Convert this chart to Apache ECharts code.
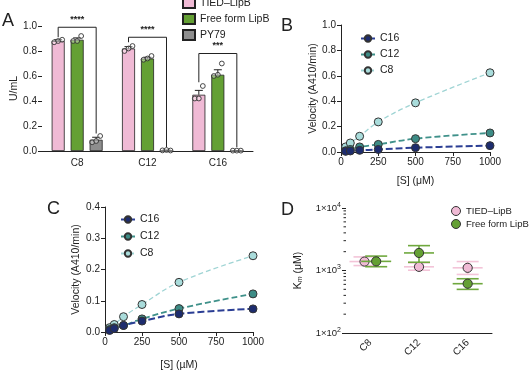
<!DOCTYPE html>
<html>
<head>
<meta charset="utf-8">
<script src="https://cdn.jsdelivr.net/npm/echarts@6/dist/echarts.min.js"></script>
<style>
  html, body { margin: 0; padding: 0; background: #fff; }
  #chart { width: 531px; height: 372px; }
</style>
</head>
<body>
<div id="chart"></div>
<script>
  // ---- panel A: activity (U/mL) ----
  const groupsA = ['C8', 'C12', 'C16']
  const tiedA = [0.88, 0.82, 0.45]
  const freeA = [0.89, 0.74, 0.61]
  const py79A = [0.09, 0.005, 0.003]
  const tiedSemA = [0.01, 0.015, 0.035]
  const freeSemA = [0.015, 0.01, 0.04]
  const py79SemA = [0.02, 0.003, 0.001]
  const tiedDotsA = [[0.87, 0.88, 0.89], [0.80, 0.82, 0.84], [0.42, 0.42, 0.52]]
  const freeDotsA = [[0.88, 0.88, 0.92], [0.73, 0.74, 0.76], [0.60, 0.61, 0.70]]
  const py79DotsA = [[0.07, 0.08, 0.12], [0.005, 0.008, 0.004], [0.003, 0.003, 0.003]]
  // [fromGroup, fromBar, toGroup, toBar, top, leftEnd, rightEnd]
  const bracketsA = [
    [0, 0, 0, 2, 0.99, 0.91, 0.14],
    [1, 0, 1, 2, 0.91, 0.87, 0.03],
    [2, 0, 2, 2, 0.78, 0.55, 0.03]
  ]
  const starsA = ['****', '****', '***']

  // ---- panels B and C: velocity vs [S] ----
  const substrate = [31.25, 62.5, 125, 250, 500, 1000]
  const c16B = [0.005, 0.008, 0.013, 0.02, 0.034, 0.05]
  const c12B = [0.01, 0.02, 0.04, 0.06, 0.105, 0.15]
  const c8B = [0.04, 0.071, 0.124, 0.237, 0.387, 0.624]
  const c16C = [0.005, 0.011, 0.021, 0.035, 0.058, 0.074]
  const c12C = [0.008, 0.014, 0.021, 0.042, 0.075, 0.122]
  const c8C = [0.014, 0.024, 0.049, 0.088, 0.159, 0.244]

  // ---- panel D: Km ----
  const groupsD = ['C8', 'C12', 'C16']
  const tiedKm = [1390, 1145, 1104]
  const tiedKmLow = [1200, 1010, 865]
  const tiedKmHigh = [1650, 1325, 1390]
  const freeKm = [1400, 1910, 615]
  const freeKmLow = [1150, 1355, 499]
  const freeKmHigh = [1700, 2500, 738]
  const tiedDodge = [-0.12, 0, 0]
  const freeDodge = [0.12, 0, 0]
  const kmMinorTicks = [200, 300, 400, 500, 600, 700, 800, 900, 2000, 3000, 4000, 5000, 6000, 7000, 8000, 9000]

  const pink = '#f0bad5'
  const green = '#64a034'
  const grey = '#8e8e8e'
  const navy = '#1d2c6e'
  const teal = '#3d8c86'
  const cyan = '#a9dcdb'
  const ink = '#222'
  const font = 'Arial, "Liberation Sans", sans-serif'

  const barOffsets = [-19, 0, 19]

  const baseAxis = {
    axisLine: { lineStyle: { color: ink, width: 1 } },
    axisTick: { lineStyle: { color: ink }, length: 4 },
    axisLabel: { color: ink, fontSize: 10, fontFamily: font, margin: 5 },
    splitLine: { show: false },
    nameTextStyle: { color: ink, fontSize: 10.5, fontFamily: font }
  }

  function barExtras(bar, means, sems, dots) {
    return {
      type: 'custom',
      xAxisIndex: 0,
      yAxisIndex: 0,
      z: 5,
      silent: true,
      data: means.map((m, i) => [i, m, sems[i]].concat(dots[i])),
      renderItem(params, api) {
        const c = api.coord([api.value(0), api.value(1)])
        const x = c[0] + barOffsets[bar]
        const top = api.coord([api.value(0), api.value(1) + api.value(2)])[1]
        const st = { stroke: ink, lineWidth: 1 }
        const children = [
          { type: 'line', shape: { x1: x, y1: c[1], x2: x, y2: top }, style: st },
          { type: 'line', shape: { x1: x - 4, y1: top, x2: x + 4, y2: top }, style: st }
        ]
        ;[-4, 0, 4].forEach((dx, k) => {
          const y = api.coord([api.value(0), api.value(3 + k)])[1]
          children.push({
            type: 'circle',
            shape: { cx: x + dx, cy: y, r: 2.4 },
            style: { fill: 'rgba(255,255,255,0.35)', stroke: '#333', lineWidth: 0.9 }
          })
        })
        return { type: 'group', children }
      }
    }
  }

  function curve(name, data, color, lineColor, width, dash, xi) {
    return {
      name,
      type: 'line',
      xAxisIndex: xi,
      yAxisIndex: xi,
      smooth: 0.4,
      symbol: 'circle',
      symbolSize: 8,
      data: substrate.map((s, i) => [s, data[i]]),
      itemStyle: { color, borderColor: '#333', borderWidth: 1 },
      lineStyle: { color: lineColor, width, type: dash },
      emphasis: { disabled: true }
    }
  }

  function kmSeries(name, km, low, high, dodge, color, capColor) {
    return {
      name,
      type: 'custom',
      xAxisIndex: 3,
      yAxisIndex: 3,
      z: name === 'Free form LipB' ? 6 : 5,
      itemStyle: { color },
      data: km.map((v, i) => [i, v, low[i], high[i], dodge[i]]),
      renderItem(params, api) {
        const band = api.size([1, 0])[0]
        const c = api.coord([api.value(0), api.value(1)])
        const x = c[0] + api.value(4) * band
        const yl = api.coord([api.value(0), api.value(2)])[1]
        const yh = api.coord([api.value(0), api.value(3)])[1]
        const st = { stroke: capColor, lineWidth: 1.6 }
        return {
          type: 'group',
          children: [
            { type: 'line', shape: { x1: x, y1: yl, x2: x, y2: yh }, style: st },
            { type: 'line', shape: { x1: x - 11, y1: yl, x2: x + 11, y2: yl }, style: st },
            { type: 'line', shape: { x1: x - 11, y1: yh, x2: x + 11, y2: yh }, style: st },
            { type: 'line', shape: { x1: x - 15, y1: c[1], x2: x + 15, y2: c[1] }, style: st },
            {
              type: 'circle',
              shape: { cx: x, cy: c[1], r: 4.6 },
              style: { fill: color, stroke: '#333', lineWidth: 1 }
            }
          ]
        }
      }
    }
  }

  const chart = echarts.init(document.getElementById('chart'), null, { renderer: 'canvas' })

  chart.setOption({
    animation: false,
    textStyle: { fontFamily: font },
    graphic: [
      { type: 'text', left: 2, top: 12, style: { text: 'A', fontSize: 18, fill: ink, fontFamily: font } },
      { type: 'text', left: 281, top: 17, style: { text: 'B', fontSize: 18, fill: ink, fontFamily: font } },
      { type: 'text', left: 47, top: 200, style: { text: 'C', fontSize: 18, fill: ink, fontFamily: font } },
      { type: 'text', left: 281, top: 201, style: { text: 'D', fontSize: 18, fill: ink, fontFamily: font } }
    ],
    legend: [
      {
        data: ['TIED–LipB', 'Free form LipB', 'PY79'].map((n) => ({ name: n, icon: 'rect' })),
        orient: 'vertical',
        left: 177,
        top: -8,
        itemWidth: 12,
        itemHeight: 10,
        itemGap: 4,
        textStyle: { color: ink, fontSize: 10.5, fontFamily: font },
        selectedMode: false
      },
      {
        data: ['C16', 'C12', 'C8'],
        orient: 'vertical',
        left: 355,
        top: 28,
        itemWidth: 14,
        itemHeight: 8,
        itemGap: 5,
        textStyle: { color: ink, fontSize: 10.5, fontFamily: font },
        selectedMode: false
      },
      {
        data: ['C16', 'C12', 'C8'],
        orient: 'vertical',
        left: 115,
        top: 209,
        itemWidth: 14,
        itemHeight: 8,
        itemGap: 6,
        textStyle: { color: ink, fontSize: 10.5, fontFamily: font },
        selectedMode: false
      },
      {
        data: ['TIED–LipB', 'Free form LipB'].map((n) => ({
          name: n,
          icon: 'circle',
          itemStyle: { borderColor: '#333', borderWidth: 1 }
        })),
        orient: 'vertical',
        left: 446,
        top: 201,
        itemWidth: 10,
        itemHeight: 9,
        itemGap: 3,
        textStyle: { color: ink, fontSize: 9.5, fontFamily: font },
        selectedMode: false
      }
    ],
    grid: [
      { left: 42, top: 26, width: 211, height: 125 },
      { left: 341, top: 25, width: 149, height: 127 },
      { left: 105, top: 207, width: 148, height: 126 },
      { left: 346, top: 208, width: 146, height: 125 }
    ],
    xAxis: [
      Object.assign({}, baseAxis, {
        gridIndex: 0,
        type: 'category',
        data: groupsA,
        axisTick: { lineStyle: { color: ink }, length: 4, alignWithLabel: true },
        axisLabel: Object.assign({}, baseAxis.axisLabel, { margin: 7 })
      }),
      Object.assign({}, baseAxis, {
        gridIndex: 1,
        type: 'value',
        min: 0,
        max: 1000,
        interval: 250,
        axisLabel: Object.assign({}, baseAxis.axisLabel, { formatter: (v) => String(v) }),
        name: '[S] (μM)',
        nameLocation: 'middle',
        nameGap: 24
      }),
      Object.assign({}, baseAxis, {
        gridIndex: 2,
        type: 'value',
        min: 0,
        max: 1000,
        interval: 250,
        axisLabel: Object.assign({}, baseAxis.axisLabel, { formatter: (v) => String(v) }),
        name: '[S] (µM)',
        nameLocation: 'middle',
        nameGap: 28
      }),
      Object.assign({}, baseAxis, {
        gridIndex: 3,
        type: 'category',
        data: groupsD,
        axisTick: { lineStyle: { color: ink }, length: 4, alignWithLabel: true },
        axisLabel: Object.assign({}, baseAxis.axisLabel, { rotate: 45, margin: 8 })
      })
    ],
    yAxis: [
      Object.assign({}, baseAxis, {
        gridIndex: 0,
        type: 'value',
        min: 0,
        max: 1,
        interval: 0.2,
        axisTick: { show: true, lineStyle: { color: ink }, length: 4 },
        axisLabel: Object.assign({}, baseAxis.axisLabel, { formatter: (v) => v.toFixed(1) }),
        name: 'U/mL',
        nameLocation: 'middle',
        nameGap: 22
      }),
      Object.assign({}, baseAxis, {
        gridIndex: 1,
        type: 'value',
        min: 0,
        max: 1,
        interval: 0.2,
        axisTick: { show: true, lineStyle: { color: ink }, length: 4 },
        axisLabel: Object.assign({}, baseAxis.axisLabel, { formatter: (v) => v.toFixed(1) }),
        name: 'Velocity (A410/min)',
        nameLocation: 'middle',
        nameGap: 21
      }),
      Object.assign({}, baseAxis, {
        gridIndex: 2,
        type: 'value',
        min: 0,
        max: 0.4,
        interval: 0.1,
        axisTick: { show: true, lineStyle: { color: ink }, length: 4 },
        axisLabel: Object.assign({}, baseAxis.axisLabel, { formatter: (v) => v.toFixed(1) }),
        name: 'Velocity (A410/min)',
        nameLocation: 'middle',
        nameGap: 23
      }),
      Object.assign({}, baseAxis, {
        gridIndex: 3,
        type: 'log',
        logBase: 10,
        min: 100,
        max: 10000,
        axisTick: { show: true, lineStyle: { color: ink }, length: 4 },
        axisLabel: Object.assign({}, baseAxis.axisLabel, {
          fontSize: 9.5,
          formatter: (v) => '1×10{sup|' + Math.round(Math.log10(v)) + '}',
          rich: { sup: { fontSize: 7, verticalAlign: 'top', padding: [0, 0, 6, 0], color: ink } }
        }),
        name: 'K{sub|m} (μM)',
        nameLocation: 'middle',
        nameGap: 42,
        nameTextStyle: {
          color: ink,
          fontSize: 10.5,
          fontFamily: font,
          rich: { sub: { fontSize: 7, fontStyle: 'italic', padding: [5, 0, 0, 0], color: ink } }
        }
      })
    ],
    series: [
      // panel A bars
      {
        name: 'TIED–LipB',
        type: 'bar',
        xAxisIndex: 0,
        yAxisIndex: 0,
        barWidth: 13,
        barGap: '46%',
        data: tiedA,
        itemStyle: { color: pink, borderColor: ink, borderWidth: 0.8 }
      },
      {
        name: 'Free form LipB',
        type: 'bar',
        xAxisIndex: 0,
        yAxisIndex: 0,
        barWidth: 13,
        barGap: '46%',
        data: freeA,
        itemStyle: { color: green, borderColor: ink, borderWidth: 0.8 }
      },
      {
        name: 'PY79',
        type: 'bar',
        xAxisIndex: 0,
        yAxisIndex: 0,
        barWidth: 13,
        barGap: '46%',
        data: py79A,
        itemStyle: { color: grey, borderColor: ink, borderWidth: 0.8 }
      },
      barExtras(0, tiedA, tiedSemA, tiedDotsA),
      barExtras(1, freeA, freeSemA, freeDotsA),
      barExtras(2, py79A, py79SemA, py79DotsA),
      // significance brackets
      {
        type: 'custom',
        xAxisIndex: 0,
        yAxisIndex: 0,
        silent: true,
        z: 6,
        data: bracketsA.map((b, i) => b.concat([i])),
        renderItem(params, api) {
          const x1 = api.coord([api.value(0), 0])[0] + barOffsets[api.value(1)]
          const x2 = api.coord([api.value(2), 0])[0] + barOffsets[api.value(3)]
          const yt = api.coord([0, api.value(4)])[1]
          const yl = api.coord([0, api.value(5)])[1]
          const yr = api.coord([0, api.value(6)])[1]
          const st = { stroke: ink, lineWidth: 1, fill: null }
          return {
            type: 'group',
            children: [
              { type: 'polyline', shape: { points: [[x1, yl], [x1, yt], [x2, yt], [x2, yr]] }, style: st },
              {
                type: 'text',
                x: (x1 + x2) / 2,
                y: yt - 3,
                style: {
                  text: starsA[api.value(7)],
                  fontSize: 9,
                  fontWeight: 'bold',
                  fill: ink,
                  align: 'center',
                  verticalAlign: 'bottom',
                  fontFamily: font
                }
              }
            ]
          }
        }
      },
      // panel B
      curve('C8', c8B, cyan, '#9fd4d4', 1.3, [5, 3], 1),
      curve('C12', c12B, teal, '#3f918a', 1.8, [6, 3], 1),
      curve('C16', c16B, navy, '#2b3e94', 2, [7, 3], 1),
      // panel C
      curve('C8', c8C, cyan, '#9fd4d4', 1.3, [5, 3], 2),
      curve('C12', c12C, teal, '#3f918a', 1.8, [6, 3], 2),
      curve('C16', c16C, navy, '#2b3e94', 2, [7, 3], 2),
      // panel D minor log ticks
      {
        type: 'custom',
        xAxisIndex: 3,
        yAxisIndex: 3,
        silent: true,
        clip: false,
        data: kmMinorTicks.map((t) => [0, t]),
        renderItem(params, api) {
          const y = api.coord([0, api.value(1)])[1]
          const x0 = params.coordSys.x
          return {
            type: 'line',
            shape: { x1: x0 - 2.5, y1: y, x2: x0, y2: y },
            style: { stroke: ink, lineWidth: 1 }
          }
        }
      },
      // panel D
      kmSeries('TIED–LipB', tiedKm, tiedKmLow, tiedKmHigh, tiedDodge, pink, '#f3c4d8'),
      kmSeries('Free form LipB', freeKm, freeKmLow, freeKmHigh, freeDodge, green, '#6fa83e')
    ]
  })
</script>
</body>
</html>
